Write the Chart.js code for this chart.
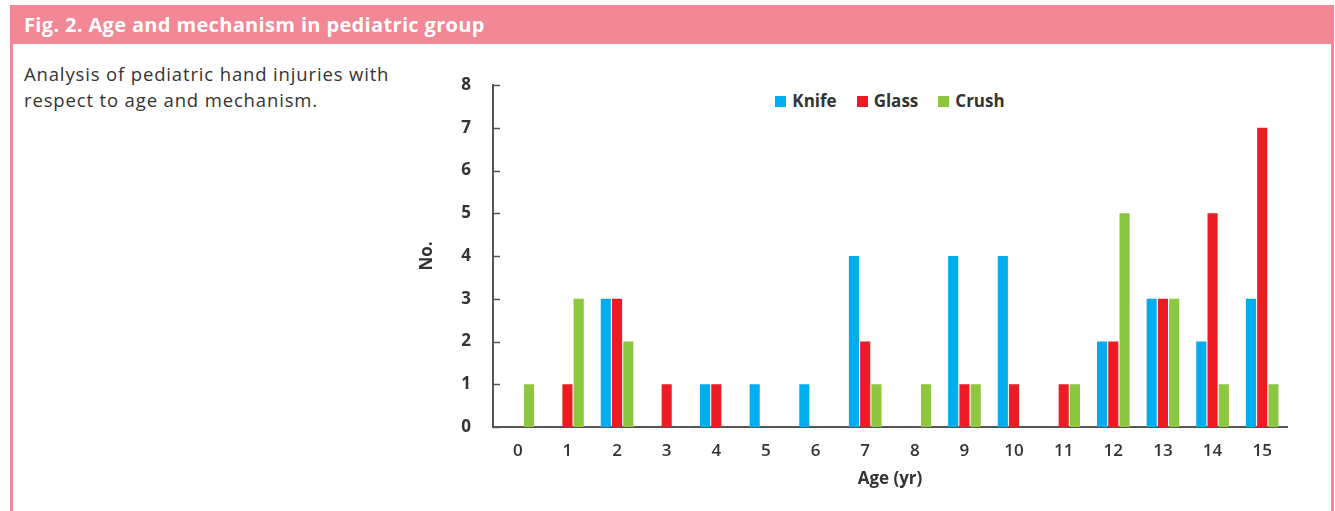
<!DOCTYPE html>
<html>
<head>
<meta charset="utf-8">
<script src="https://cdn.jsdelivr.net/npm/chart.js@4"></script>
<style>
  body { margin: 0; background: #fff; width: 1335px; height: 511px; overflow: hidden; position: relative; font-family: "Open Sans", sans-serif; }
  .frame { position: absolute; left: 10px; top: 5px; width: 1318px; height: 520px; border: 3px solid #f28795; border-top: none; }
  .head { position: absolute; left: 10px; top: 5px; width: 1324px; height: 39px; background: #f28795; color: #fff; font-weight: bold; font-size: 20px; line-height: 39px; padding-left: 14px; box-sizing: border-box; letter-spacing: 0.35px; }
  .caption { position: absolute; left: 24px; top: 61px; font-size: 18.5px; line-height: 26px; color: #333; letter-spacing: 0.85px; }
  .chartbox { position: absolute; left: 400px; top: 60px; width: 920px; height: 440px; }
  #legend { position: absolute; top: 89px; left: 0; width: 100%; text-align: center; font-weight: bold; font-size: 17px; color: #333; pointer-events: none; }
  #legend span.item { margin: 0 10px; }
  #legend span.box { display: inline-block; width: 11px; height: 11px; margin-right: 6px; vertical-align: 0; }
</style>
</head>
<body>
<div class="frame"></div>
<div class="head">Fig. 2. Age and mechanism in pediatric group</div>
<div class="caption">Analysis of pediatric hand injuries with<br>respect to age and mechanism.</div>
<div style="position:absolute; left:493px; width:794px; top:0; height:511px;"><div id="legend"></div></div>
<div class="chartbox"><canvas id="ageChart" width="920" height="440"></canvas></div>
<script>
// Data
const ages = ['0', '1', '2', '3', '4', '5', '6', '7', '8', '9', '10', '11', '12', '13', '14', '15'];
const knife = [0, 0, 3, 0, 1, 1, 1, 4, 0, 4, 4, 0, 2, 3, 2, 3];
const glass = [0, 1, 3, 1, 1, 0, 0, 2, 0, 1, 1, 1, 2, 3, 5, 7];
const crush = [1, 3, 2, 0, 0, 0, 0, 1, 1, 1, 0, 1, 5, 3, 1, 1];
const yTicks = [0, 1, 2, 3, 4, 5, 6, 7, 8];

const seriesNames = ['Knife', 'Glass', 'Crush'];
const seriesColors = ['#00aeef', '#ed1c24', '#8dc63f'];

// Small tick marks on the inside of the y axis
const innerTicks = {
  id: 'innerTicks',
  afterDraw(chart) {
    const y = chart.scales.y;
    const ctx = chart.ctx;
    ctx.save();
    ctx.strokeStyle = '#555';
    ctx.lineWidth = 1.5;
    yTicks.forEach(v => {
      const py = Math.round(y.getPixelForValue(v)) + 0.5;
      ctx.beginPath();
      ctx.moveTo(y.right, py);
      ctx.lineTo(y.right + 7, py);
      ctx.stroke();
    });
    ctx.restore();
  }
};

const chart = new Chart(document.getElementById('ageChart'), {
  type: 'bar',
  data: {
    labels: ages,
    datasets: [knife, glass, crush].map((d, i) => ({
      label: seriesNames[i],
      data: d,
      backgroundColor: seriesColors[i],
      categoryPercentage: 0.68,
      barPercentage: 0.9
    }))
  },
  options: {
    responsive: false,
    animation: false,
    layout: { padding: { top: 25, right: 33, bottom: 7, left: 13 } },
    plugins: { legend: { display: false }, tooltip: { enabled: false } },
    scales: {
      x: {
        grid: { display: false },
        border: { color: '#555', width: 2 },
        ticks: { color: '#333', padding: 6, font: { family: 'Open Sans', size: 17, weight: '600' } },
        title: { display: true, text: 'Age (yr)', color: '#333', padding: { top: 2 }, font: { family: 'Open Sans', size: 17, weight: 'bold' } },
        afterFit: s => { s.height = 66; }
      },
      y: {
        min: 0,
        max: 8,
        grid: { display: false },
        border: { color: '#555', width: 2 },
        afterBuildTicks: s => { s.ticks = yTicks.map(v => ({ value: v })); },
        ticks: { color: '#333', padding: 14, font: { family: 'Open Sans', size: 17, weight: 'bold' } },
        title: { display: true, text: 'No.', color: '#333', padding: { bottom: 12 }, font: { family: 'Open Sans', size: 17, weight: 'bold' } },
        afterFit: s => { s.width = 80; }
      }
    }
  },
  plugins: [innerTicks]
});

// HTML legend built from the chart's datasets
document.getElementById('legend').innerHTML = chart.data.datasets.map(ds =>
  '<span class="item"><span class="box" style="background:' + ds.backgroundColor + '"></span>' + ds.label + '</span>'
).join('');
</script>
</body>
</html>
